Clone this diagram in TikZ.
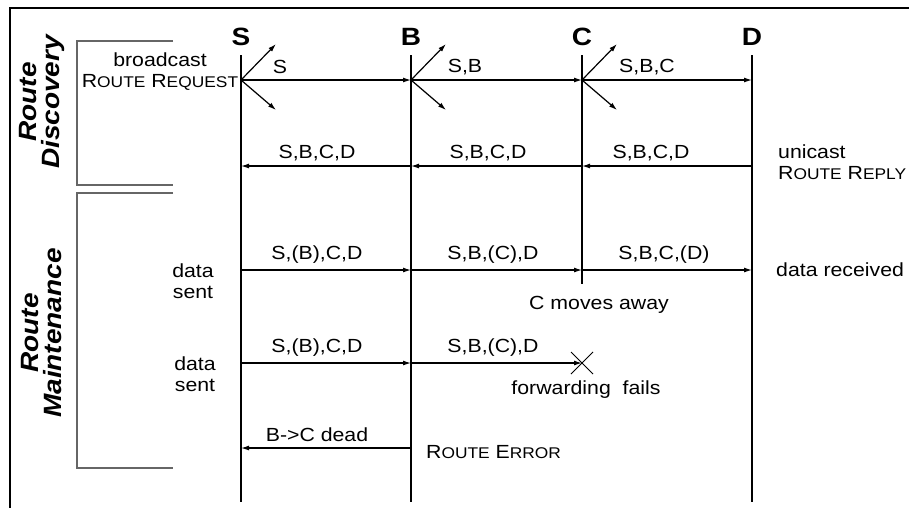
\documentclass[tikz,border=0pt]{standalone}
\usepackage{fontspec}
\setmainfont{Liberation Sans}[FakeStretch=1.12]
\usetikzlibrary{arrows.meta,shapes.misc}

% small caps faked: big first letter, smaller rest
\newcommand{\bigsmall}[2]{#1{\fontsize{15.5}{17}\selectfont #2}}

\tikzset{
  lifeline/.style={line width=1.8pt},
  msg/.style={line width=1.2pt,-{Latex[length=8pt,width=5pt]}},
  lbl/.style={font=\fontsize{19}{21}\selectfont, inner sep=1pt},
  head/.style={font=\fontsize{25}{27}\selectfont\bfseries, inner sep=1pt},
  phase/.style={font=\fontsize{25}{23}\selectfont\bfseries\itshape, rotate=90, align=center},
  bracket/.style={line width=1.6pt, draw=black!60},
}

\begin{document}
\begin{tikzpicture}[x=1pt,y=-1pt]
  \useasboundingbox (0,0) rectangle (909,507);
  \draw[line width=2.5pt] (10,8) rectangle (930,530);

  % phases
  \node[phase] (disc) at (42,102) {Route\\Discovery};
  \node[phase] (maint) at (42,333) {Route\\Maintenance};
  \draw[bracket] (173,41) -- (77,41) -- (77,185) -- (173,185);
  \draw[bracket] (173,193) -- (77,193) -- (77,468) -- (173,468);

  % lifelines
  \foreach \n/\x in {S/241,B/411,C/582,D/752}{
    \node[head] (\n) at (\x,37) {\n};
    \coordinate (\n-top) at (\x,55);
    \coordinate (\n-bot) at (\x,502);
    \coordinate (\n-up) at (\x+35,44);
    \coordinate (\n-down) at (\x+35,110);
    \foreach \r/\y in {1/80,2/166,3/270,4/363,5/448}
      \coordinate (\n\r) at (\x,\y);
  }
  \coordinate (C-gone) at (582,284);
  \draw[lifeline] (S-top) -- (S-bot);
  \draw[lifeline] (B-top) -- (B-bot);
  \draw[lifeline] (C-top) -- (C-gone);
  \draw[lifeline] (D-top) -- (D-bot);

  % route request
  \node[lbl, align=center] (bcast) at (160,72) {broadcast\\\bigsmall{R}{OUTE} \bigsmall{R}{EQUEST}};
  \foreach \n in {S,B,C}{
    \draw[msg] (\n1) -- (\n-up);
    \draw[msg] (\n1) -- (\n-down);
  }
  \draw[msg] (S1) -- (B1);
  \draw[msg] (B1) -- (C1);
  \draw[msg] (C1) -- (D1);
  \node[lbl] (rq1) at (280,67) {S};
  \node[lbl] (rq2) at (465,67) {S,B};
  \node[lbl] (rq3) at (647,67) {S,B,C};

  % route reply
  \draw[msg] (D2) -- (C2);
  \draw[msg] (C2) -- (B2);
  \draw[msg] (B2) -- (S2);
  \node[lbl] (rp1) at (317,153) {S,B,C,D};
  \node[lbl] (rp2) at (488,153) {S,B,C,D};
  \node[lbl] (rp3) at (651,153) {S,B,C,D};
  \node[lbl, align=left, anchor=west] (ucast) at (777,162) {unicast\\\bigsmall{R}{OUTE} \bigsmall{R}{EPLY}};

  % data ok
  \draw[msg] (S3) -- (B3);
  \draw[msg] (B3) -- (C3);
  \draw[msg] (C3) -- (D3);
  \node[lbl] (d1) at (317,255) {S,(B),C,D};
  \node[lbl] (d2) at (493,255) {S,B,(C),D};
  \node[lbl] (d3) at (664,255) {S,B,C,(D)};
  \node[lbl, align=center] (sent1) at (193,281) {data\\sent};
  \node[lbl, anchor=west] (recv) at (775,270) {data received};
  \node[lbl] (away) at (599,305) {C moves away};

  % data fails
  \node[draw, cross out, line width=1pt, minimum size=21pt, inner sep=0pt] (cut) at (C4) {};
  \draw[msg] (S4) -- (B4);
  \draw[msg] (B4) -- (cut.center);
  \node[lbl] (e1) at (317,348) {S,(B),C,D};
  \node[lbl] (e2) at (493,348) {S,B,(C),D};
  \node[lbl, align=center] (sent2) at (195,374) {data\\sent};
  \node[lbl] (fail) at (586,390) {forwarding\ \ fails};

  % route error
  \draw[msg] (B5) -- (S5);
  \node[lbl] (dead) at (317,435) {B->C dead};
  \node[lbl, anchor=west] (rerr) at (425,452) {\bigsmall{R}{OUTE} \bigsmall{E}{RROR}};
\end{tikzpicture}
\end{document}
